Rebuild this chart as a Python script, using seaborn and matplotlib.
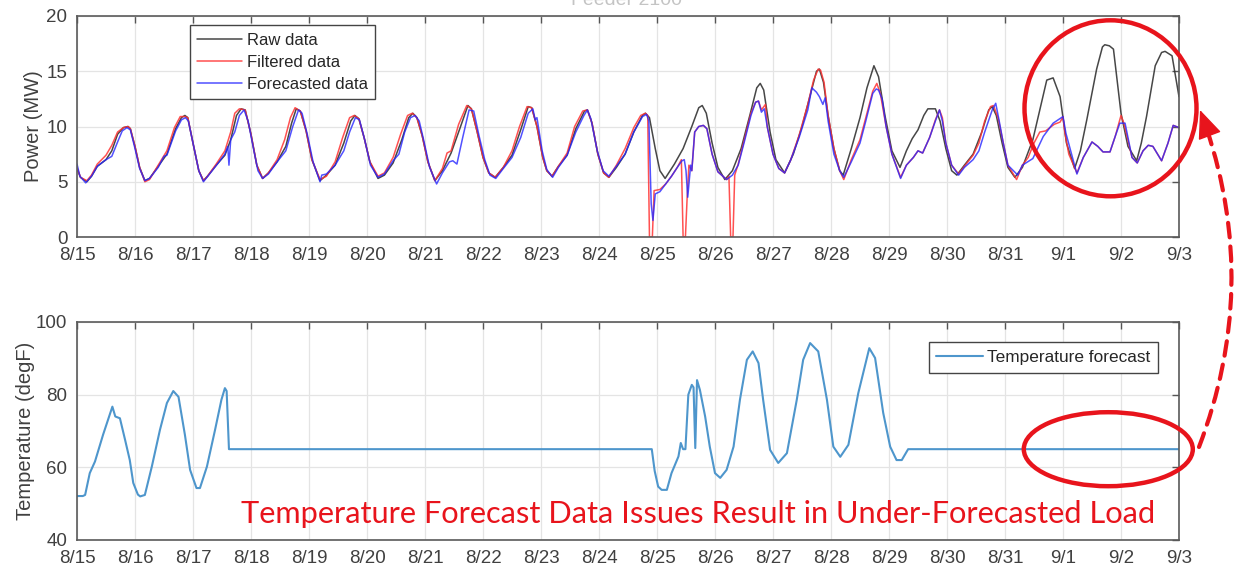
import numpy as np
import matplotlib
matplotlib.use('Agg')
import matplotlib.pyplot as plt
import seaborn as sns
from matplotlib.patches import Ellipse, FancyArrowPatch

# x values are days since 8/15
day_labels = ['8/15', '8/16', '8/17', '8/18', '8/19', '8/20', '8/21', '8/22', '8/23', '8/24',
              '8/25', '8/26', '8/27', '8/28', '8/29', '8/30', '8/31', '9/1', '9/2', '9/3']

raw_t = [0, 0.06, 0.17, 0.25, 0.35, 0.5, 0.6, 0.7, 0.8, 0.88, 0.92, 1.0, 1.08, 1.17,
         1.25, 1.4, 1.55, 1.7, 1.8, 1.86, 1.91, 2.0, 2.1, 2.18,
         2.25, 2.4, 2.55, 2.65, 2.75, 2.83, 2.9, 3.0, 3.1, 3.2,
         3.3, 3.45, 3.6, 3.7, 3.78, 3.85, 3.95, 4.05, 4.19,
         4.3, 4.45, 4.6, 4.72, 4.79, 4.86, 4.95, 5.05, 5.19,
         5.3, 5.45, 5.6, 5.72, 5.79, 5.86, 5.95, 6.05, 6.17,
         6.3, 6.45, 6.6, 6.74, 6.8, 6.9, 7.0, 7.1, 7.21,
         7.35, 7.5, 7.65, 7.78, 7.84, 7.93, 8.03, 8.1, 8.19,
         8.3, 8.45, 8.6, 8.75, 8.8, 8.88, 8.98, 9.08, 9.17,
         9.3, 9.45, 9.6, 9.75, 9.8, 9.87, 9.97, 10.05, 10.14,
         10.3, 10.45, 10.6, 10.72, 10.78, 10.85, 10.95, 11.05, 11.17,
         11.3, 11.45, 11.6, 11.72, 11.78, 11.84, 11.95, 12.05, 12.2,
         12.35, 12.5, 12.65, 12.75, 12.8, 12.87, 12.95, 13.05, 13.15, 13.21,
         13.35, 13.5, 13.62, 13.74, 13.82, 13.93, 14.05, 14.19,
         14.3, 14.4, 14.5, 14.6, 14.67, 14.8, 14.88, 14.98, 15.08, 15.17,
         15.3, 15.45, 15.6, 15.72, 15.78, 15.85, 15.95, 16.05, 16.17,
         16.3, 16.48, 16.6, 16.72, 16.83, 16.95, 17.06, 17.2,
         17.3, 17.41, 17.58, 17.68, 17.72, 17.8, 17.87, 18.0, 18.12, 18.27,
         18.35, 18.44, 18.59, 18.7, 18.76, 18.88, 19.0]
raw_mw = [6.2, 5.4, 5.0, 5.5, 6.4, 7.0, 7.8, 9.3, 9.9, 10.0, 9.8, 8.2, 6.3, 5.1,
          5.3, 6.4, 7.5, 9.8, 10.8, 11.0, 10.8, 8.5, 6.0, 5.1,
          5.5, 6.5, 7.4, 8.8, 11.0, 11.6, 11.5, 9.3, 6.5, 5.3,
          5.8, 6.8, 8.2, 10.3, 11.6, 11.4, 9.6, 7.0, 5.1,
          5.6, 6.5, 8.5, 10.5, 11.0, 10.7, 9.0, 6.8, 5.3,
          5.6, 6.7, 8.8, 10.8, 11.2, 10.8, 9.2, 6.8, 5.1,
          6.0, 7.6, 9.8, 11.9, 11.6, 9.5, 7.2, 5.8, 5.4,
          6.3, 7.4, 9.7, 11.8, 11.7, 10.0, 7.2, 6.0, 5.5,
          6.4, 7.4, 9.8, 11.4, 11.5, 10.3, 7.5, 5.8, 5.4,
          6.3, 7.5, 9.5, 11.0, 11.2, 10.8, 8.0, 6.0, 5.3,
          6.6, 8.0, 10.0, 11.7, 11.9, 11.2, 8.5, 6.3, 5.2,
          6.0, 8.0, 11.0, 13.5, 13.9, 13.3, 9.5, 7.0, 5.8,
          7.5, 10.0, 13.0, 15.0, 15.2, 14.0, 11.0, 8.0, 6.0, 5.6,
          8.0, 10.8, 13.5, 15.5, 14.5, 11.0, 7.8, 6.3,
          7.8, 8.9, 9.7, 11.0, 11.6, 11.6, 10.5, 8.0, 6.0, 5.6,
          6.5, 7.5, 9.5, 11.5, 11.8, 11.0, 8.5, 6.3, 5.4,
          6.3, 8.8, 11.5, 14.2, 14.4, 12.7, 8.5, 6.2,
          7.8, 10.6, 15.2, 17.2, 17.4, 17.3, 17.0, 11.2, 8.2, 6.9,
          8.5, 10.9, 15.5, 16.7, 16.8, 16.4, 12.7]

filt_t = [0, 0.06, 0.17, 0.25, 0.35, 0.5, 0.6, 0.7, 0.8, 0.88, 0.92, 1.0, 1.08, 1.17,
          1.25, 1.4, 1.55, 1.68, 1.78, 1.86, 1.91, 2.0, 2.1, 2.18,
          2.25, 2.4, 2.55, 2.65, 2.72, 2.8, 2.9, 3.0, 3.1, 3.2,
          3.3, 3.45, 3.58, 3.68, 3.76, 3.85, 3.95, 4.05, 4.19,
          4.3, 4.45, 4.58, 4.7, 4.78, 4.86, 4.95, 5.05, 5.19,
          5.3, 5.45, 5.58, 5.7, 5.78, 5.86, 5.95, 6.05, 6.17,
          6.3, 6.38, 6.45, 6.58, 6.72, 6.8, 6.9, 7.0, 7.1, 7.21,
          7.35, 7.5, 7.63, 7.76, 7.84, 7.93, 8.03, 8.1, 8.19,
          8.3, 8.45, 8.58, 8.72, 8.8, 8.88, 8.98, 9.08, 9.17,
          9.3, 9.45, 9.6, 9.72, 9.8, 9.84, 9.87, 9.92, 9.95, 10.05, 10.15, 10.25, 10.35, 10.42,
          10.45, 10.49, 10.52, 10.55, 10.6, 10.65, 10.72, 10.8, 10.86, 10.95, 11.05, 11.2,
          11.24, 11.27, 11.31, 11.34,
          11.4, 11.5, 11.62, 11.7, 11.75, 11.8, 11.87, 11.9, 12.0, 12.1, 12.2,
          12.3, 12.45, 12.6, 12.7, 12.78, 12.82, 12.88, 12.95, 13.05, 13.15, 13.22,
          13.35, 13.5, 13.6, 13.72, 13.79, 13.85, 13.95, 14.05, 14.2,
          14.3, 14.42, 14.5, 14.58, 14.7, 14.8, 14.87, 14.92, 14.98, 15.08, 15.2,
          15.3, 15.45, 15.55, 15.65, 15.75, 15.8, 15.88, 15.97, 16.05, 16.2,
          16.3, 16.4, 16.5, 16.6, 16.7, 16.85, 16.95, 17.0, 17.03, 17.1, 17.24,
          17.35, 17.5, 17.6, 17.69, 17.81, 17.9, 18.0, 18.05, 18.19, 18.28,
          18.38, 18.47, 18.55, 18.7, 18.81, 18.9, 19.0]
filt_mw = [6.3, 5.4, 5.1, 5.6, 6.6, 7.4, 8.3, 9.5, 9.9, 10.0, 9.8, 8.2, 6.3, 5.0,
           5.2, 6.5, 7.8, 9.9, 10.9, 10.9, 10.8, 8.5, 6.0, 5.1,
           5.5, 6.6, 7.8, 9.5, 11.2, 11.6, 11.5, 9.3, 6.5, 5.3,
           5.8, 7.0, 8.8, 10.8, 11.7, 11.4, 9.6, 7.0, 5.2,
           5.5, 6.8, 9.0, 10.8, 11.0, 10.7, 9.0, 6.8, 5.5,
           5.8, 7.2, 9.3, 11.0, 11.2, 10.8, 9.2, 6.8, 5.1,
           6.2, 7.6, 7.8, 10.2, 11.9, 11.6, 9.5, 7.2, 5.8, 5.4,
           6.3, 7.8, 10.0, 11.8, 11.7, 10.0, 7.2, 6.0, 5.5,
           6.4, 7.6, 10.0, 11.4, 11.5, 10.3, 7.5, 5.8, 5.4,
           6.5, 8.0, 9.9, 11.0, 11.2, 11.0, 0.0, 0.0, 4.2, 4.3, 4.8, 5.5, 6.3, 7.0,
           0.0, 0.0, 3.6, 6.5, 6.0, 9.5, 10.0, 10.1, 9.8, 7.5, 5.9, 5.2,
           5.5, 0.0, 0.0, 5.6,
           6.6, 8.7, 11.2, 12.2, 12.3, 11.5, 12.0, 10.0, 7.5, 6.2, 5.8,
           6.9, 9.2, 12.0, 14.2, 15.2, 15.1, 14.0, 11.0, 8.0, 6.0, 5.2,
           7.0, 8.8, 10.8, 13.2, 13.9, 13.0, 10.0, 7.5, 5.4,
           6.5, 7.2, 7.8, 7.6, 9.0, 10.6, 11.5, 10.8, 8.5, 6.5, 5.7,
           6.4, 7.4, 8.5, 10.5, 11.8, 11.9, 10.8, 8.5, 6.5, 5.2,
           6.5, 7.2, 8.5, 9.5, 9.6, 10.2, 10.4, 10.9, 9.5, 7.5, 5.8,
           7.2, 8.6, 8.2, 7.7, 7.7, 9.1, 11.0, 10.3, 7.2, 6.7,
           7.8, 8.3, 8.2, 6.9, 8.5, 10.1, 9.9]

fcst_t = [0, 0.05, 0.15, 0.25, 0.35, 0.5, 0.6, 0.7, 0.78, 0.86, 0.92, 1.0, 1.08, 1.17,
          1.25, 1.4, 1.5, 1.55, 1.7, 1.8, 1.87, 1.92, 2.0, 2.1, 2.18,
          2.3, 2.45, 2.55, 2.6, 2.62, 2.65, 2.72, 2.8, 2.88, 2.95, 3.05, 3.12, 3.2,
          3.3, 3.45, 3.6, 3.72, 3.82, 3.88, 3.97, 4.07, 4.19,
          4.22, 4.3, 4.45, 4.6, 4.7, 4.8, 4.87, 4.96, 5.06, 5.19,
          5.3, 5.45, 5.55, 5.65, 5.75, 5.83, 5.9, 5.98, 6.08, 6.2,
          6.3, 6.42, 6.48, 6.55, 6.65, 6.76, 6.84, 6.93, 7.03, 7.12, 7.22,
          7.35, 7.5, 7.65, 7.78, 7.86, 7.9, 7.93, 8.02, 8.1, 8.2,
          8.3, 8.45, 8.6, 8.74, 8.8, 8.86, 8.97, 9.07, 9.17,
          9.3, 9.45, 9.6, 9.75, 9.82, 9.86, 9.9, 9.93, 9.97, 10.05, 10.15, 10.25, 10.35, 10.43, 10.47,
          10.5, 10.53, 10.58, 10.6, 10.65, 10.72, 10.8, 10.86, 10.95, 11.05, 11.2,
          11.3, 11.4, 11.5, 11.62, 11.7, 11.75, 11.8, 11.85, 11.9, 12.0, 12.1, 12.2,
          12.3, 12.45, 12.6, 12.67, 12.75, 12.8, 12.86, 12.9, 12.95, 13.05, 13.15, 13.22,
          13.35, 13.5, 13.6, 13.72, 13.78, 13.82, 13.88, 13.95, 14.05, 14.2,
          14.3, 14.42, 14.5, 14.58, 14.7, 14.8, 14.87, 14.92, 14.98, 15.08, 15.2,
          15.3, 15.45, 15.55, 15.65, 15.78, 15.84, 15.9, 15.97, 16.05, 16.22,
          16.3, 16.48, 16.66, 16.83, 17.0, 17.05, 17.24,
          17.35, 17.5, 17.6, 17.69, 17.81, 17.9, 17.98, 18.07, 18.19, 18.28,
          18.38, 18.47, 18.55, 18.7, 18.81, 18.9, 19.0]
fcst_mw = [6.6, 5.5, 4.9, 5.5, 6.4, 7.0, 7.3, 8.6, 9.6, 9.9, 9.7, 8.0, 6.2, 5.1,
           5.3, 6.3, 7.3, 7.4, 9.6, 10.6, 10.8, 10.5, 8.5, 6.0, 5.0,
           5.8, 6.8, 7.5, 8.2, 6.5, 8.8, 9.5, 11.0, 11.5, 10.5, 7.8, 6.0, 5.3,
           5.7, 6.8, 7.8, 10.0, 11.5, 11.2, 9.3, 6.8, 5.0,
           5.6, 5.7, 6.5, 7.8, 9.5, 10.8, 10.6, 8.8, 6.5, 5.4,
           5.7, 6.9, 7.5, 9.5, 10.8, 11.0, 10.5, 8.7, 6.3, 4.8,
           5.8, 6.8, 6.9, 6.6, 9.0, 11.5, 11.4, 9.2, 7.0, 5.6, 5.3,
           6.2, 7.2, 9.0, 11.2, 11.6, 10.6, 10.8, 7.8, 6.1, 5.4,
           6.3, 7.4, 9.5, 11.0, 11.5, 10.7, 7.8, 6.0, 5.5,
           6.4, 7.5, 9.5, 10.9, 11.1, 10.5, 3.0, 1.5, 3.9, 4.1, 4.8, 5.5, 6.3, 6.9, 7.0,
           6.0, 3.6, 6.5, 6.0, 9.5, 10.0, 10.1, 9.8, 7.5, 5.9, 5.2,
           5.6, 6.5, 8.5, 11.0, 12.2, 12.3, 11.3, 11.6, 10.0, 7.5, 6.2, 5.8,
           6.9, 9.0, 11.5, 13.5, 13.1, 12.7, 12.0, 12.6, 10.5, 7.5, 6.0, 5.4,
           6.8, 8.5, 10.5, 13.0, 13.4, 13.3, 12.5, 10.0, 7.5, 5.3,
           6.5, 7.2, 7.8, 7.6, 9.0, 10.5, 11.5, 10.5, 8.5, 6.5, 5.6,
           6.3, 7.0, 7.8, 9.5, 11.5, 12.1, 10.5, 8.5, 6.5, 5.6,
           6.5, 7.1, 9.1, 10.3, 10.9, 9.4, 5.7,
           7.2, 8.6, 8.2, 7.7, 7.7, 9.1, 10.3, 10.3, 7.2, 6.7,
           7.8, 8.3, 8.2, 6.9, 8.5, 10.1, 9.9]

temp_t = [0.0, 0.1, 0.14, 0.22, 0.31, 0.45, 0.61, 0.66, 0.74, 0.83, 0.91, 0.97, 1.05, 1.09, 1.17,
          1.29, 1.43, 1.55, 1.66, 1.75, 1.86, 1.95, 2.06, 2.12, 2.24, 2.38, 2.49, 2.55, 2.58, 2.62,
          9.91, 9.96, 10.02, 10.08, 10.17, 10.25, 10.37, 10.41, 10.45, 10.49, 10.54, 10.6, 10.63,
          10.66, 10.69, 10.74, 10.83, 10.91, 11.0, 11.09, 11.2, 11.32, 11.43, 11.55, 11.65, 11.75,
          11.83, 11.95, 12.09, 12.24, 12.41, 12.52, 12.64, 12.78, 12.93, 13.04, 13.16, 13.3, 13.47,
          13.66, 13.76, 13.9, 14.02, 14.13, 14.22, 14.33, 19.0]
temp_degf = [52.1, 52.1, 52.4, 58.4, 61.6, 69.0, 76.7, 74.0, 73.5, 67.5, 62.0, 55.7, 52.5, 52.0, 52.4,
             60.2, 70.3, 77.7, 81.0, 79.4, 69.0, 59.3, 54.3, 54.3, 60.2, 70.3, 78.6, 81.8, 81.0, 65.0,
             65.0, 59.0, 54.7, 53.8, 53.8, 58.4, 63.0, 66.7, 65.0, 65.0, 80.0, 82.7, 82.0,
             65.3, 84.0, 81.3, 74.0, 65.7, 58.4, 57.1, 59.3, 65.7, 78.6, 89.6, 91.9, 88.7,
             78.6, 64.8, 61.2, 63.9, 78.6, 89.6, 94.2, 91.9, 78.6, 65.7, 62.9, 66.2, 80.4,
             92.8, 90.1, 75.0, 65.7, 62.0, 62.0, 65.0, 65.0]

note_text = 'Temperature Forecast Data Issues Result in Under-Forecasted Load'

sns.set_style('whitegrid')
plt.rcParams['font.family'] = ['Liberation Sans', 'DejaVu Sans']

W, H = 1236, 573
fig = plt.figure(figsize=(W / 100, H / 100), dpi=100)
ax1 = fig.add_axes([77 / W, 1 - 237 / H, 1102 / W, 221 / H])
ax2 = fig.add_axes([77 / W, 1 - 540 / H, 1102 / W, 218 / H])

sns.lineplot(x=raw_t, y=raw_mw, ax=ax1, color='#333333', lw=1.1, alpha=0.9,
             sort=False, estimator=None, label='Raw data')
sns.lineplot(x=filt_t, y=filt_mw, ax=ax1, color='#ff3333', lw=1.1, alpha=0.85,
             sort=False, estimator=None, label='Filtered data')
sns.lineplot(x=fcst_t, y=fcst_mw, ax=ax1, color='#2626ff', lw=1.1, alpha=0.8,
             sort=False, estimator=None, label='Forecasted data')
sns.lineplot(x=temp_t, y=temp_degf, ax=ax2, color='#4e96cc', lw=1.5,
             sort=False, estimator=None, label='Temperature forecast')

for ax in (ax1, ax2):
    ax.set_xlim(0, 19)
    ax.set_xticks(range(20))
    ax.set_xticklabels(day_labels)
    ax.grid(True, color='#e4e4e4', lw=0.9)
    ax.tick_params(direction='in', length=5, width=1, color='#555555', top=True, right=True,
                   labelsize=13.5, labelcolor='#404040', pad=7)
    for s in ax.spines.values():
        s.set_color('#5a5a5a')
        s.set_linewidth(1.2)

ax1.set_ylim(0, 20)
ax1.set_yticks([0, 5, 10, 15, 20])
ax1.set_ylabel('Power (MW)', fontsize=14.5, color='#404040')
ax1.yaxis.set_label_coords(-0.031, 0.5)
ax2.set_ylim(40, 100)
ax2.set_yticks([40, 60, 80, 100])
ax2.set_ylabel('Temperature (degF)', fontsize=14.5, color='#404040')
ax2.yaxis.set_label_coords(-0.038, 0.5)

leg_kw = dict(frameon=True, fancybox=False, framealpha=1, edgecolor='#444444',
              handlelength=2.7, handletextpad=0.25, borderpad=0.45, borderaxespad=0)
lg1 = ax1.legend(loc='upper left', bbox_to_anchor=(0.1025, 0.959), fontsize=12,
                 labelspacing=0.42, **leg_kw)
lg2 = ax2.legend(loc='upper right', bbox_to_anchor=(0.981, 0.908), fontsize=12.4,
                 labelspacing=0.4, **leg_kw)
for lg in (lg1, lg2):
    lg.get_frame().set_linewidth(1.0)
    for t in lg.get_texts():
        t.set_color('#262626')

# clipped title at the very top
fig.text(0.507, 1 - 5 / H, 'Feeder 2100', ha='center', va='baseline', fontsize=14, color='#c4c4c4')

# red annotations
red = '#e8141c'
fig.add_artist(Ellipse((1110.5 / W, 1 - 108.3 / H), 172 / W, 176 / H, transform=fig.transFigure,
                       fill=False, ec=red, lw=3.2))
fig.add_artist(Ellipse((1108.3 / W, 1 - 449.2 / H), 169 / W, 74 / H, transform=fig.transFigure,
                       fill=False, ec=red, lw=3.2))

# dashed arc from the lower ellipse up to the circle, solid head at the end
p0 = np.array([1199.0, H - 447.0])
p2 = np.array([1200.0, H - 110.0])
rad = 0.19
d = p2 - p0
ctrl = (p0 + p2) / 2 + rad * np.array([d[1], -d[0]])
u = (p2 - ctrl) / np.linalg.norm(p2 - ctrl)
head_base = p2 - 22 * u
px = lambda p: (p[0] / W, p[1] / H)
fig.add_artist(FancyArrowPatch(px(p0), px(p2), transform=fig.transFigure,
                               connectionstyle=f'arc3,rad={rad}', arrowstyle='-',
                               shrinkA=0, shrinkB=14, color=red, lw=3,
                               linestyle=(0, (3.5, 2.2))))
fig.add_artist(FancyArrowPatch(px(head_base), px(p2), transform=fig.transFigure,
                               arrowstyle='-|>,head_length=1.3,head_width=0.55', mutation_scale=14,
                               shrinkA=0, shrinkB=0, color=red, lw=1))

txt = fig.text(241 / W, 1 - 523 / H, note_text, ha='left', va='baseline', color=red,
               fontsize=20, family=['Lato', 'DejaVu Sans'])
fig.canvas.draw()
w = txt.get_window_extent().width
txt.set_fontsize(20 * 917 / w)

fig.savefig('out.png', dpi=100)
